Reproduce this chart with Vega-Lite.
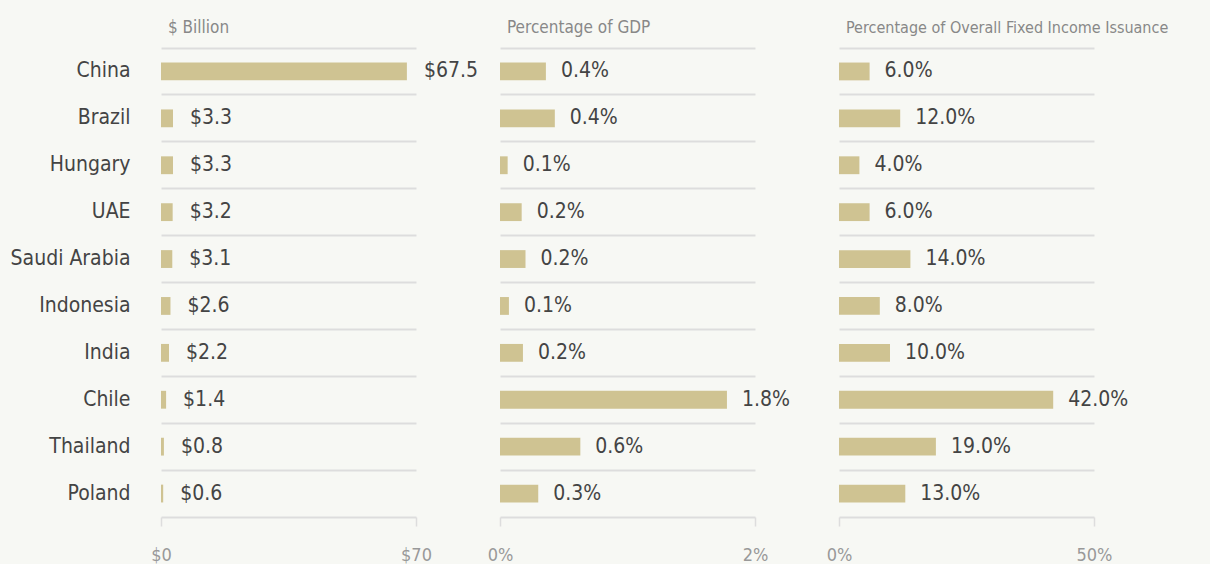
{
  "$schema": "https://vega.github.io/schema/vega-lite/v6.json",
  "background": "#f7f8f4",
  "padding": {"left": 10, "top": 19, "right": 37, "bottom": 0},
  "bounds": "flush",
  "spacing": 84,
  "data": {
    "values": [
      {"country": "China", "billion": 67.5, "gdp": 0.0036, "gdpLabel": "0.4%", "share": 0.06},
      {"country": "Brazil", "billion": 3.3, "gdp": 0.0043, "gdpLabel": "0.4%", "share": 0.12},
      {"country": "Hungary", "billion": 3.3, "gdp": 0.0006, "gdpLabel": "0.1%", "share": 0.04},
      {"country": "UAE", "billion": 3.2, "gdp": 0.0017, "gdpLabel": "0.2%", "share": 0.06},
      {"country": "Saudi Arabia", "billion": 3.1, "gdp": 0.002, "gdpLabel": "0.2%", "share": 0.14},
      {"country": "Indonesia", "billion": 2.6, "gdp": 0.0007, "gdpLabel": "0.1%", "share": 0.08},
      {"country": "India", "billion": 2.2, "gdp": 0.0018, "gdpLabel": "0.2%", "share": 0.10},
      {"country": "Chile", "billion": 1.4, "gdp": 0.0178, "gdpLabel": "1.8%", "share": 0.42},
      {"country": "Thailand", "billion": 0.8, "gdp": 0.0063, "gdpLabel": "0.6%", "share": 0.19},
      {"country": "Poland", "billion": 0.6, "gdp": 0.003, "gdpLabel": "0.3%", "share": 0.13}
    ]
  },
  "hconcat": [
    {
      "width": 255,
      "height": 469,
      "title": {"text": "$ Billion"},
      "encoding": {
        "y": {
          "field": "country", "type": "nominal", "sort": null,
          "scale": {"paddingInner": 0, "paddingOuter": 0},
          "axis": {"title": null, "labels": true, "labelFontSize": 21, "labelColor": "#444", "labelPadding": 31, "ticks": false, "domain": false, "grid": true, "bandPosition": 0}
        }
      },
      "layer": [
        {
          "mark": {"type": "bar", "color": "#cfc392", "height": {"band": 0.38}},
          "encoding": {
            "x": {"field": "billion", "type": "quantitative", "scale": {"domain": [0, 70], "nice": false},
              "axis": {"title": null, "values": [0, 70], "format": "$.0f"}}
          }
        },
        {
          "mark": {"type": "text", "align": "left", "baseline": "middle", "dx": 17, "fontSize": 21, "color": "#444"},
          "encoding": {
            "x": {"field": "billion", "type": "quantitative"},
            "text": {"field": "billion", "type": "quantitative", "format": "$.1f"}
          }
        }
      ]
    },
    {
      "width": 255,
      "height": 469,
      "title": {"text": "Percentage of GDP"},
      "encoding": {
        "y": {
          "field": "country", "type": "nominal", "sort": null,
          "scale": {"paddingInner": 0, "paddingOuter": 0},
          "axis": {"title": null, "labels": false, "ticks": false, "domain": false, "grid": true, "bandPosition": 0}
        }
      },
      "layer": [
        {
          "mark": {"type": "bar", "color": "#cfc392", "height": {"band": 0.38}},
          "encoding": {
            "x": {"field": "gdp", "type": "quantitative", "scale": {"domain": [0, 0.02], "nice": false},
              "axis": {"title": null, "values": [0, 0.02], "format": ".0%"}}
          }
        },
        {
          "mark": {"type": "text", "align": "left", "baseline": "middle", "dx": 15, "fontSize": 21, "color": "#444"},
          "encoding": {
            "x": {"field": "gdp", "type": "quantitative"},
            "text": {"field": "gdpLabel", "type": "nominal"}
          }
        }
      ]
    },
    {
      "width": 255,
      "height": 469,
      "title": {"text": "Percentage of Overall  Fixed Income Issuance", "fontSize": 16, "dy": -1},
      "encoding": {
        "y": {
          "field": "country", "type": "nominal", "sort": null,
          "scale": {"paddingInner": 0, "paddingOuter": 0},
          "axis": {"title": null, "labels": false, "ticks": false, "domain": false, "grid": true, "bandPosition": 0}
        }
      },
      "layer": [
        {
          "mark": {"type": "bar", "color": "#cfc392", "height": {"band": 0.38}},
          "encoding": {
            "x": {"field": "share", "type": "quantitative", "scale": {"domain": [0, 0.5], "nice": false},
              "axis": {"title": null, "values": [0, 0.5], "format": ".0%"}}
          }
        },
        {
          "mark": {"type": "text", "align": "left", "baseline": "middle", "dx": 15, "fontSize": 21, "color": "#444"},
          "encoding": {
            "x": {"field": "share", "type": "quantitative"},
            "text": {"field": "share", "type": "quantitative", "format": ".1%"}
          }
        }
      ]
    }
  ],
  "config": {
    "font": "DejaVu Sans Condensed, Liberation Sans Narrow, sans-serif",
    "view": {"stroke": null},
    "axis": {"gridColor": "#dddddd", "gridWidth": 2, "minExtent": 0, "labelFont": "DejaVu Sans Condensed, Liberation Sans Narrow, sans-serif"},
    "axisX": {"grid": false, "labelFlush": false, "domainColor": "#dddddd", "domainWidth": 2, "tickColor": "#dddddd", "tickWidth": 1.5, "tickSize": 9, "labelPadding": 20, "labelFontSize": 18, "labelColor": "#999999"},
    "title": {"anchor": "start", "frame": "group", "dx": 7, "fontSize": 17, "fontWeight": "normal", "color": "#888888", "offset": 11, "font": "DejaVu Sans Condensed, Liberation Sans Narrow, sans-serif"}
  }
}
